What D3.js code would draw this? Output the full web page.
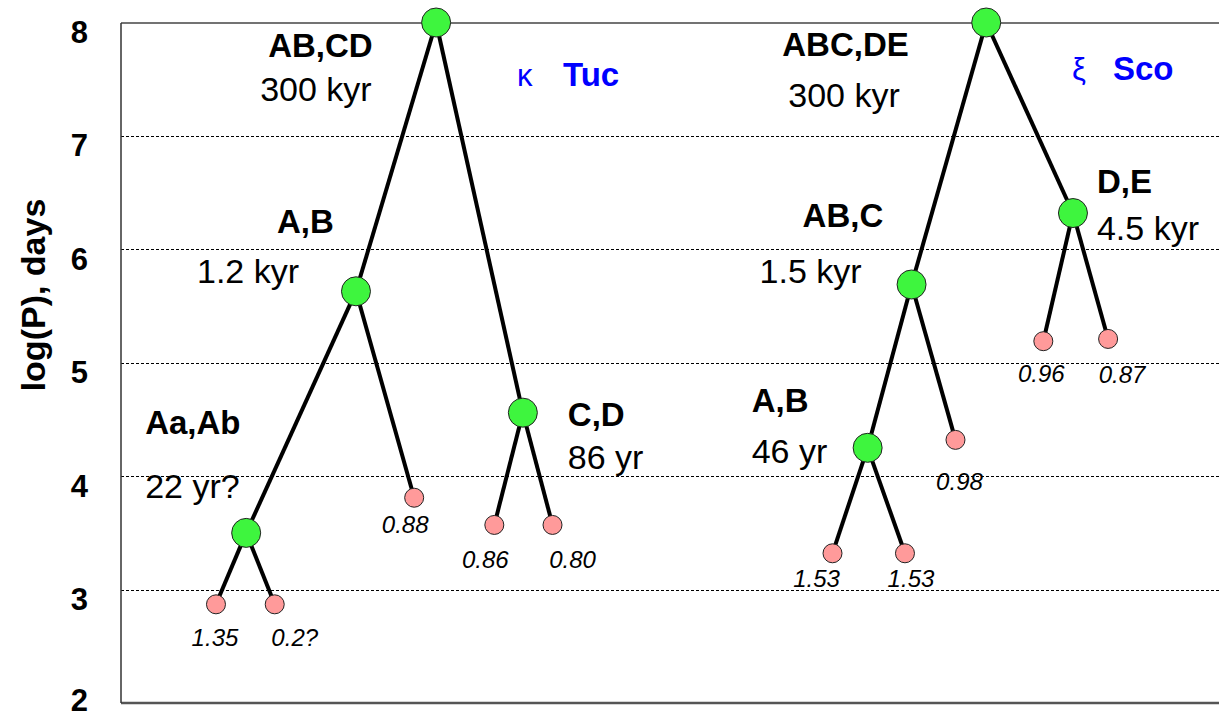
<!DOCTYPE html>
<html>
<head>
<meta charset="utf-8">
<script src="https://d3js.org/d3.v7.min.js"></script>
<style>
  body { margin: 0; background: #fff; }
  text { font-family: "Liberation Sans", Arial, sans-serif; }
</style>
</head>
<body>
<div id="chart"></div>
<script>
// log(P) ticks
var yTicks = [2, 3, 4, 5, 6, 7, 8];

// the two multiple systems
var sysGreek = ["κ", "ξ"];
var sysNames = ["Tuc", "Sco"];

// sub-systems (green nodes)
var pairIds     = ["tAB_CD", "tA_B", "tC_D", "tAa_Ab", "sABC_DE", "sAB_C", "sD_E", "sA_B"];
var pairNames   = ["AB,CD", "A,B", "C,D", "Aa,Ab", "ABC,DE", "AB,C", "D,E", "A,B"];
var pairPeriods = ["300 kyr", "1.2 kyr", "86 yr", "22 yr?", "300 kyr", "1.5 kyr", "4.5 kyr", "46 yr"];
var pairSlot    = [28.7, 21.4, 36.6, 11.4, 78.8, 72.0, 86.7, 68.0];
var pairLogP    = [8.0, 5.63, 4.56, 3.50, 8.0, 5.69, 6.32, 4.25];

// single stars (pink leaves), labelled with mass
var starIds    = ["tAa", "tAb", "tB", "tC", "tD", "sA", "sB", "sC", "sD", "sE"];
var starMasses = ["1.35", "0.2?", "0.88", "0.86", "0.80", "1.53", "1.53", "0.98", "0.96", "0.87"];
var starSlot   = [8.65, 14.0, 26.7, 34.0, 39.3, 64.8, 71.4, 76.0, 84.0, 89.9];
var starLogP   = [2.87, 2.87, 3.81, 3.57, 3.57, 3.32, 3.32, 4.32, 5.19, 5.21];

// hierarchy links
var linkParent = ["tAB_CD", "tAB_CD", "tA_B", "tA_B", "tAa_Ab", "tAa_Ab", "tC_D", "tC_D",
                  "sABC_DE", "sABC_DE", "sAB_C", "sAB_C", "sA_B", "sA_B", "sD_E", "sD_E"];
var linkChild  = ["tA_B", "tC_D", "tAa_Ab", "tB", "tAa", "tAb", "tC", "tD",
                  "sAB_C", "sD_E", "sA_B", "sC", "sA", "sB", "sD", "sE"];

// label placement (pixels, relative to node)
var pairNameOff = [[-168, 34], [-79, -58], [45, 13], [-101, -99], [-204, 33], [-109, -57], [24, -20], [-116, -36]];
var pairPerOff  = [[-176, 78], [-159, -8], [45, 56], [-101, -35], [-198, 84], [-152, -1], [24, 27], [-116, 15]];
var starLabOff  = [[-1, 42], [20, 42], [-9, 35], [-9, 43], [20, 43], [-16, 34], [6, 34], [4, 50], [-2, 41], [14, 44]];
var titlePos    = [[517, 86, 46], [1072, 80, 41]];

var W = 1219, H = 718;
var plotLeft = 121, plotTop = 22.5, plotBottom = 703;

var svg = d3.select("#chart")
  .append("svg")
    .attr("width", W)
    .attr("height", H);

var x = d3.scaleLinear().domain([0, 100]).range([plotLeft, W]);
var y = d3.scaleLinear().domain([2, 8]).range([plotBottom, plotTop]);

// dotted grid
svg.append("g")
  .selectAll("line")
  .data(yTicks.filter(function(d) { return d > 2 && d < 8; }))
  .enter().append("line")
    .attr("x1", plotLeft).attr("x2", W)
    .attr("y1", function(d) { return Math.round(y(d)) + 0.5; })
    .attr("y2", function(d) { return Math.round(y(d)) + 0.5; })
    .attr("stroke", "#000")
    .attr("stroke-width", 1)
    .attr("stroke-dasharray", "3,2");

// frame
svg.append("line").attr("x1", plotLeft).attr("x2", W).attr("y1", 23).attr("y2", 23)
  .attr("stroke", "#444").attr("stroke-width", 1.5);
svg.append("line").attr("x1", plotLeft).attr("x2", W).attr("y1", plotBottom).attr("y2", plotBottom)
  .attr("stroke", "#555").attr("stroke-width", 2.5);
svg.append("line").attr("x1", plotLeft).attr("x2", plotLeft).attr("y1", 23).attr("y2", plotBottom)
  .attr("stroke", "#333").attr("stroke-width", 1.5);

// Y axis labels
var yAxis = svg.append("g")
  .attr("transform", "translate(" + plotLeft + ",0)")
  .call(d3.axisLeft(y).tickValues(yTicks).tickSize(0).tickPadding(33).tickFormat(d3.format("d")));
yAxis.select(".domain").remove();
yAxis.selectAll("text")
  .attr("font-family", "Liberation Sans, Arial, sans-serif")
  .attr("font-size", 31)
  .attr("font-weight", "bold")
  .attr("fill", "#000")
  .attr("dy", "0.32em")
  .attr("y", function(d) { return Math.min(10, 701 - y(d)); });

svg.append("text")
  .attr("transform", "translate(45,295) rotate(-90)")
  .attr("text-anchor", "middle")
  .attr("font-size", 34)
  .attr("font-weight", "bold")
  .text("log(P), days");

// node lookup
var pos = {};
pairIds.forEach(function(id, i) { pos[id] = [x(pairSlot[i]), y(pairLogP[i])]; });
starIds.forEach(function(id, i) { pos[id] = [x(starSlot[i]), y(starLogP[i])]; });

// links
svg.append("g")
  .selectAll("line")
  .data(linkParent.map(function(p, i) { return [p, linkChild[i]]; }))
  .enter().append("line")
    .attr("x1", function(d) { return pos[d[0]][0]; })
    .attr("y1", function(d) { return pos[d[0]][1]; })
    .attr("x2", function(d) { return pos[d[1]][0]; })
    .attr("y2", function(d) { return pos[d[1]][1]; })
    .attr("stroke", "#000")
    .attr("stroke-width", 4);

// stars
svg.append("g")
  .selectAll("circle")
  .data(starIds)
  .enter().append("circle")
    .attr("cx", function(d, i) { return x(starSlot[i]); })
    .attr("cy", function(d, i) { return y(starLogP[i]); })
    .attr("r", 9.5)
    .attr("fill", "#ff9a9a")
    .attr("stroke", "#222")
    .attr("stroke-width", 1);

svg.append("g")
  .selectAll("text")
  .data(starMasses)
  .enter().append("text")
    .attr("x", function(d, i) { return x(starSlot[i]) + starLabOff[i][0]; })
    .attr("y", function(d, i) { return y(starLogP[i]) + starLabOff[i][1]; })
    .attr("text-anchor", "middle")
    .attr("font-size", 24)
    .attr("font-style", "italic")
    .text(function(d) { return d; });

// sub-systems
svg.append("g")
  .selectAll("circle")
  .data(pairIds)
  .enter().append("circle")
    .attr("cx", function(d, i) { return x(pairSlot[i]); })
    .attr("cy", function(d, i) { return y(pairLogP[i]); })
    .attr("r", 14.5)
    .attr("fill", "#3ef53e")
    .attr("stroke", "#222")
    .attr("stroke-width", 1);

svg.append("g")
  .selectAll("text")
  .data(pairNames)
  .enter().append("text")
    .attr("x", function(d, i) { return x(pairSlot[i]) + pairNameOff[i][0]; })
    .attr("y", function(d, i) { return y(pairLogP[i]) + pairNameOff[i][1]; })
    .attr("font-size", 33)
    .attr("font-weight", "bold")
    .text(function(d) { return d; });

svg.append("g")
  .selectAll("text")
  .data(pairPeriods)
  .enter().append("text")
    .attr("x", function(d, i) { return x(pairSlot[i]) + pairPerOff[i][0]; })
    .attr("y", function(d, i) { return y(pairLogP[i]) + pairPerOff[i][1]; })
    .attr("font-size", 34)
    .text(function(d) { return d; });

// system titles
sysNames.forEach(function(name, i) {
  svg.append("text")
    .attr("x", titlePos[i][0]).attr("y", titlePos[i][1])
    .attr("font-size", 31)
    .attr("fill", "#0000ff")
    .text(sysGreek[i]);
  svg.append("text")
    .attr("x", titlePos[i][0] + titlePos[i][2]).attr("y", titlePos[i][1])
    .attr("font-size", 33)
    .attr("font-weight", "bold")
    .attr("fill", "#0000ff")
    .text(name);
});
</script>
</body>
</html>
